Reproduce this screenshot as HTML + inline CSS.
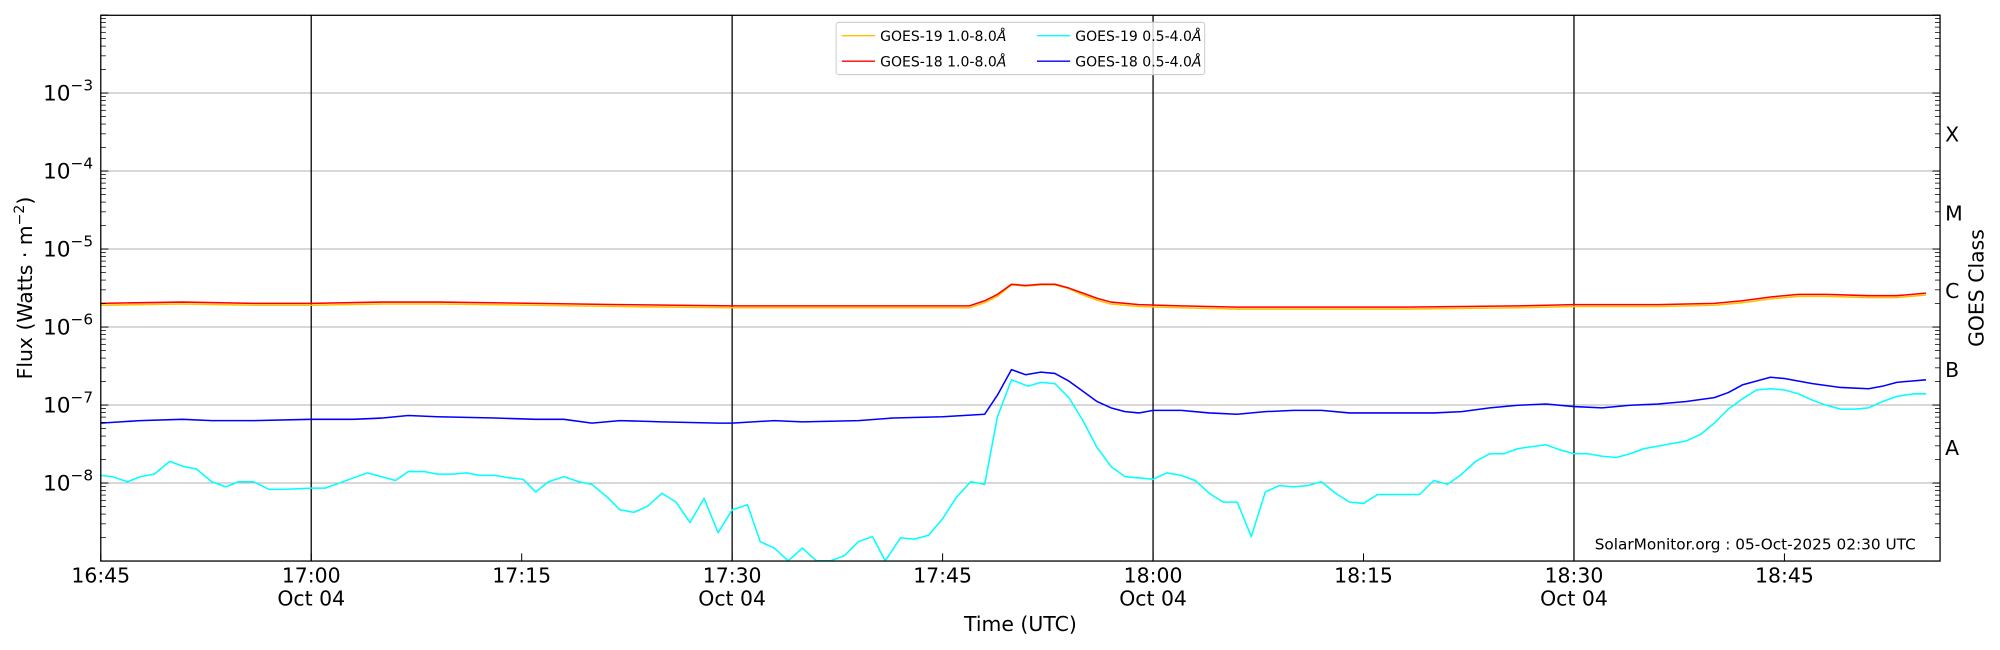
<!DOCTYPE html>
<html><head><meta charset="utf-8"><style>
html,body{margin:0;padding:0;background:#fff;}
svg{display:block;font-family:"DejaVu Sans","Liberation Sans",sans-serif;}
</style></head><body>
<svg id="s" width="2000" height="650" viewBox="0 0 1568 510" preserveAspectRatio="none" xmlns="http://www.w3.org/2000/svg">
<rect x="0" y="0" width="1568" height="510" fill="#fff"/>
<g id="grid"></g>
<g id="data"></g>
<g id="ax"></g>
<g id="leg">
<rect x="655.5" y="17.5" width="289" height="41" fill="#fff" fill-opacity="0.8" stroke="#ccc" stroke-width="0.8" rx="2"/>
<line x1="660" y1="28" x2="686" y2="28" stroke="#ffc000" stroke-width="1"/>
<text x="690" y="32" font-size="11">GOES-19 1.0-8.0<tspan font-style="italic">Å</tspan></text>
<line x1="660" y1="48" x2="686" y2="48" stroke="#ff0000" stroke-width="1"/>
<text x="690" y="52" font-size="11">GOES-18 1.0-8.0<tspan font-style="italic">Å</tspan></text>
<line x1="813" y1="28" x2="839" y2="28" stroke="#00ffff" stroke-width="1"/>
<text x="843" y="32" font-size="11">GOES-19 0.5-4.0<tspan font-style="italic">Å</tspan></text>
<line x1="813" y1="48" x2="839" y2="48" stroke="#0000ff" stroke-width="1"/>
<text x="843" y="52" font-size="11">GOES-18 0.5-4.0<tspan font-style="italic">Å</tspan></text>
</g>
<g font-size="16">
<text x="79" y="457" text-anchor="middle">16:45</text>
<text x="244" y="457" text-anchor="middle">17:00</text><text x="244" y="475" text-anchor="middle">Oct 04</text>
<text x="409" y="457" text-anchor="middle">17:15</text>
<text x="574" y="457" text-anchor="middle">17:30</text><text x="574" y="475" text-anchor="middle">Oct 04</text>
<text x="739" y="457" text-anchor="middle">17:45</text>
<text x="904" y="457" text-anchor="middle">18:00</text><text x="904" y="475" text-anchor="middle">Oct 04</text>
<text x="1069" y="457" text-anchor="middle">18:15</text>
<text x="1234" y="457" text-anchor="middle">18:30</text><text x="1234" y="475" text-anchor="middle">Oct 04</text>
<text x="1399" y="457" text-anchor="middle">18:45</text>
<text x="800" y="495" text-anchor="middle">Time (UTC)</text>
<text transform="translate(25,226) rotate(-90)" text-anchor="middle">Flux (Watts · m<tspan dy="-6" font-size="11">−2</tspan><tspan dy="6">)</tspan></text>
<text transform="translate(1555,226) rotate(-90)" text-anchor="middle">GOES Class</text>
<text x="1525" y="111">X</text>
<text x="1525" y="173">M</text>
<text x="1525" y="234">C</text>
<text x="1525" y="296">B</text>
<text x="1525" y="357">A</text>
</g>
<text x="1502" y="431" font-size="12" text-anchor="end">SolarMonitor.org : 05-Oct-2025 02:30 UTC</text>
</svg>
<script>
const NS="http://www.w3.org/2000/svg";
function el(p,t,a){const e=document.createElementNS(NS,t);for(const k in a)e.setAttribute(k,a[k]);document.getElementById(p).appendChild(e);return e;}
const L=79,R=1521,T=12,B=440.2;
function yv(k){return 73+(-3-k)*61.2;}
for(let k=-3;k>=-8;k--)el("grid","line",{x1:L,x2:R,y1:yv(k),y2:yv(k),stroke:"#b0b0b0","stroke-width":0.8});
[244,574,904,1234].forEach(x=>el("grid","line",{x1:x,x2:x,y1:T,y2:B,stroke:"#000","stroke-width":1}));
// axes ticks
for(let k=-2;k>=-9;k--){
  const y=yv(k);
  el("ax","line",{x1:L,x2:L+6,y1:y,y2:y,stroke:"#000","stroke-width":0.8});
  el("ax","line",{x1:R,x2:R-6,y1:y,y2:y,stroke:"#000","stroke-width":0.8});
  if(k<-2&&k>-9){
    const t=el("ax","text",{x:73,y:y+6,"text-anchor":"end","font-size":"17"});
    t.innerHTML='10<tspan dy="-8" font-size="12">−'+(-k)+'</tspan>';
  }
  if(k>-9)for(let m=2;m<=9;m++){const ym=y+61.2-Math.log10(m)*61.2;
    if(ym<T)continue;
    el("ax","line",{x1:L,x2:L+4,y1:ym,y2:ym,stroke:"#000","stroke-width":0.6});
    el("ax","line",{x1:R,x2:R-4,y1:ym,y2:ym,stroke:"#000","stroke-width":0.6});}
}
[79,244,409,574,739,904,1069,1234,1399].forEach(x=>{el("ax","line",{x1:x,x2:x,y1:B,y2:B-6,stroke:"#000","stroke-width":0.8});});
el("ax","rect",{x:L,y:T,width:R-L,height:B-T,fill:"none",stroke:"#000","stroke-width":1});
function line(pts,col){el("data","polyline",{points:pts,fill:"none",stroke:col,"stroke-width":1.2,"stroke-linejoin":"round"});}
const red="79,238 143,237 199,238 244,238 300,237 344,237 420,238 486,239 574,240 700,240 760,240 772,236 782,231 793,223 804,224 816,223 827,223 838,226 849,230 860,234 871,237 893,239 926,240 970,241 1036,241 1102,241 1190,240 1234,239 1300,239 1344,238 1366,236 1388,233 1410,231 1432,231 1465,232 1487,232 1510,230";
const yel=red.split(" ").map(p=>{const [x,y]=p.split(",").map(Number);return x+","+(y+(y<230?0.5:1.5));}).join(" ");
const cyan="79,373 88,374 100,378 110,374 121,372 133,362 144,366 154,368 166,378 177,382 187,378 199,378 211,384 222,384 244,383 255,383 266,379 288,371 299,374 310,377 320,370 333,370 343,372 355,372 366,371 376,373 388,373 400,375 410,376 420,386 430,378 442,374 454,378 464,380 476,390 486,400 497,402 508,397 519,387 530,394 541,410 552,391 563,418 574,400 586,396 596,425 607,430 618,440 629,430 640,440 651,440 662,436 673,425 684,421 694,440 706,422 717,423 728,420 739,407 750,390 761,378 772,380 782,327 793,298 806,303 816,300 827,301 838,312 849,330 860,351 871,366 882,374 893,375 904,376 915,371 926,373 937,377 948,387 959,394 970,394 981,421 992,386 1003,381 1014,382 1025,381 1036,378 1047,387 1058,394 1069,395 1080,388 1091,388 1102,388 1113,388 1124,377 1135,380 1146,372 1157,362 1168,356 1179,356 1190,352 1212,349 1223,353 1234,356 1245,356 1256,358 1267,359 1278,356 1289,352 1300,350 1311,348 1322,346 1333,341 1344,332 1355,321 1366,313 1377,306 1388,305 1399,306 1410,309 1421,314 1432,318 1443,321 1454,321 1465,320 1476,315 1487,311 1500,309 1510,309";
const blue="79,332 110,330 143,329 166,330 199,330 244,329 277,329 300,328 320,326 343,327 388,328 420,329 442,329 464,332 486,330 519,331 563,332 574,332 607,330 629,331 673,330 700,328 739,327 772,325 782,310 793,290 804,294 816,292 827,293 838,299 849,307 860,315 871,320 882,323 893,324 904,322 926,322 948,324 970,325 992,323 1014,322 1036,322 1058,324 1080,324 1102,324 1124,324 1146,323 1168,320 1190,318 1212,317 1234,319 1256,320 1278,318 1300,317 1322,315 1344,312 1355,308 1366,302 1388,296 1399,297 1421,301 1443,304 1465,305 1476,303 1487,300 1510,298";
line(yel,"#ffc000");line(red,"#ff0000");line(cyan,"#00ffff");line(blue,"#0000ff");
</script>
</body></html>
